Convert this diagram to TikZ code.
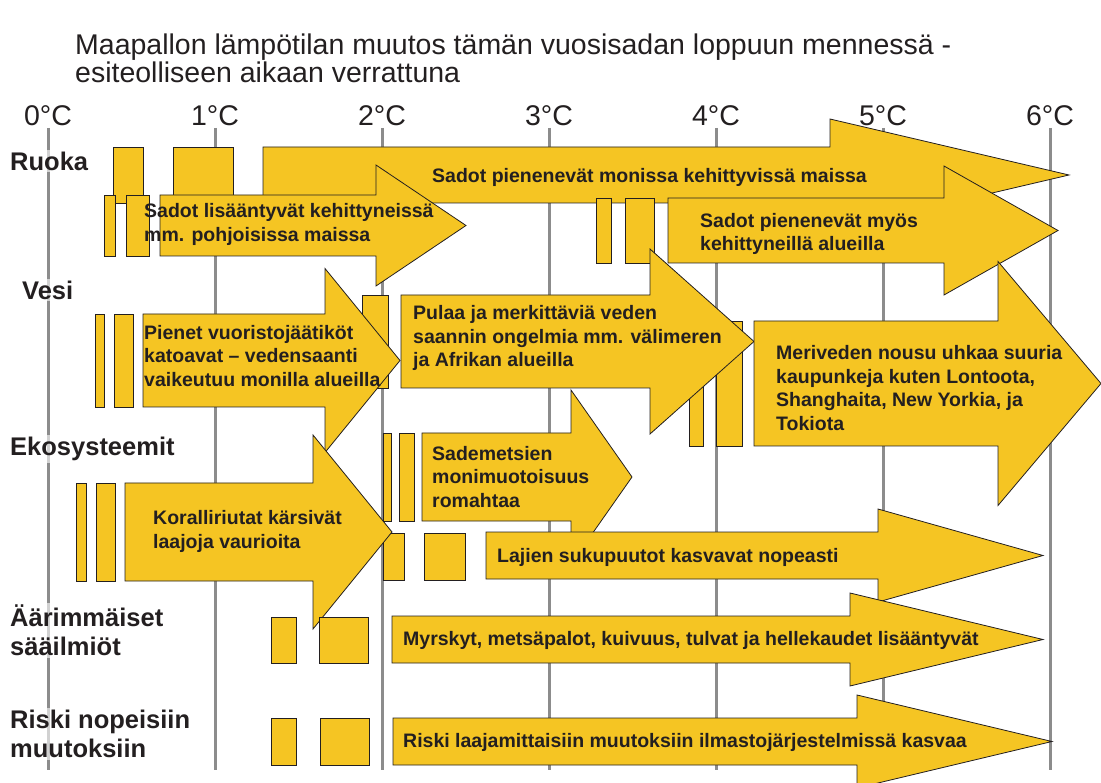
\documentclass[tikz,border=0pt]{standalone}
\usepackage{fontspec}
\setmainfont{Liberation Sans}
\definecolor{ylw}{RGB}{245,197,35}
\definecolor{ink}{RGB}{35,31,32}
\definecolor{gridgray}{RGB}{140,140,140}
\newcommand{\yarrow}[6]{% x0, xh, xt, yc, hb, hh
  \filldraw[shp] (#1,#4-#5) -- (#2,#4-#5) -- (#2,#4-#6) -- (#3,#4) -- (#2,#4+#6) -- (#2,#4+#5) -- (#1,#4+#5) -- cycle;}
\newcommand{\ybox}[4]{\filldraw[shp] (#1,#2) rectangle (#3,#4);}
\tikzset{
  shp/.style={fill=ylw, draw=ink, line width=0.8pt},
  txt/.style={font=\fontsize{19.5}{23.5}\selectfont\bfseries, text=ink, align=left, anchor=west, inner sep=0pt},
  cat/.style={font=\fontsize{25.5}{29}\selectfont\bfseries, text=ink, align=left, anchor=west, inner sep=2pt, fill=white, fill opacity=0.6, text opacity=1},
  deg/.style={font=\fontsize{28.5}{30}\selectfont, text=ink, inner sep=0pt},
  gline/.style={draw=gridgray, line width=3pt}
}
\begin{document}
\begin{tikzpicture}[x=1pt,y=-1pt]
\useasboundingbox (0,0) rectangle (1101,783);
% title
\node[anchor=north west, inner sep=0pt, align=left, font=\fontsize{28.5}{28}\selectfont, text=ink] (title) at (75,34)
  {Maapallon lämpötilan muutos tämän vuosisadan loppuun mennessä -\\esiteolliseen aikaan verrattuna};
% grid lines and degree labels
\foreach \k in {0,...,6}{
  \coordinate (gt\k) at (48+167*\k,128);
  \coordinate (gb\k) at (48+167*\k,770);
  \draw[gline] (gt\k) -- (gb\k);
  \node[deg] (t\k) at (48+167*\k,116) {\k°C};
}
% ---- Ruoka
\ybox{113}{147}{143}{203}
\ybox{173}{147}{233}{203}
\yarrow{263}{830}{1069}{175}{28}{56}
\ybox{104}{195}{115}{256}
\ybox{126}{195}{149}{256}
\yarrow{160}{376}{466}{225.5}{30.5}{60.5}
\ybox{596}{198}{611}{263}
\ybox{625}{198}{654}{263}
\yarrow{668}{944}{1058}{230.5}{32.5}{64.5}
% ---- Vesi
\ybox{95}{314}{104}{407}
\ybox{114}{314}{133}{407}
\ybox{362}{295}{388}{388}
\yarrow{143}{325}{400}{360.5}{46.5}{92}
\ybox{689}{321}{703}{446}
\ybox{716}{321}{742}{446}
\yarrow{401}{650}{754}{341.5}{46.5}{92.5}
\yarrow{754}{998}{1101}{383.5}{62.5}{122}
% ---- Ekosysteemit
\ybox{383}{433}{391}{521}
\ybox{399}{433}{414}{521}
\yarrow{422}{571}{632}{477}{44}{87}
\ybox{76}{483}{86}{581}
\ybox{96}{483}{115}{581}
\ybox{383}{533}{404}{580}
\ybox{424}{533}{465}{580}
\yarrow{125}{313}{392}{532}{49}{97}
\yarrow{486}{878}{1043}{555.5}{23.5}{46.5}
% ---- Äärimmäiset sääilmiöt
\ybox{271}{617}{296}{663}
\ybox{319}{617}{368}{663}
\yarrow{392}{850}{1043}{639.5}{23.5}{46.5}
% ---- Riski
\ybox{271}{718}{296}{765}
\ybox{320}{718}{369}{765}
\yarrow{393}{857}{1052}{741.5}{23.5}{46.5}
% arrow texts
\node[txt] (a1) at (432,177) {Sadot pienenevät monissa kehittyvissä maissa};
\node[txt] (a2) at (144,224.5) {Sadot lisääntyvät kehittyneissä\\mm. pohjoisissa maissa};
\node[txt] (a3) at (700,234) {Sadot pienenevät myös\\kehittyneillä alueilla};
\node[txt] (a4) at (144,356) {Pienet vuoristojäätiköt\\katoavat – vedensaanti\\vaikeutuu monilla alueilla};
\node[txt] (a5) at (413,338) {Pulaa ja merkittäviä veden\\saannin ongelmia mm. välimeren\\ja Afrikan alueilla};
\node[txt] (a6) at (776,388) {Meriveden nousu uhkaa suuria\\kaupunkeja kuten Lontoota,\\Shanghaita, New Yorkia, ja\\Tokiota};
\node[txt] (a7) at (432,477) {Sademetsien\\monimuotoisuus\\romahtaa};
\node[txt] (a8) at (153,531.5) {Koralliriutat kärsivät\\laajoja vaurioita};
\node[txt] (a9) at (497,557) {Lajien sukupuutot kasvavat nopeasti};
\node[txt] (a10) at (403,640) {Myrskyt, metsäpalot, kuivuus, tulvat ja hellekaudet lisääntyvät};
\node[txt] (a11) at (403,742) {Riski laajamittaisiin muutoksiin ilmastojärjestelmissä kasvaa};
% category labels
\node[cat] (c1) at (8,161) {Ruoka};
\node[cat] (c2) at (20,290) {Vesi};
\node[cat] (c3) at (8,449) {Ekosysteemit};
\node[cat] (c4) at (8,630.5) {Äärimmäiset\\sääilmiöt};
\node[cat] (c5) at (8,734) {Riski nopeisiin\\muutoksiin};
\end{tikzpicture}
\end{document}
